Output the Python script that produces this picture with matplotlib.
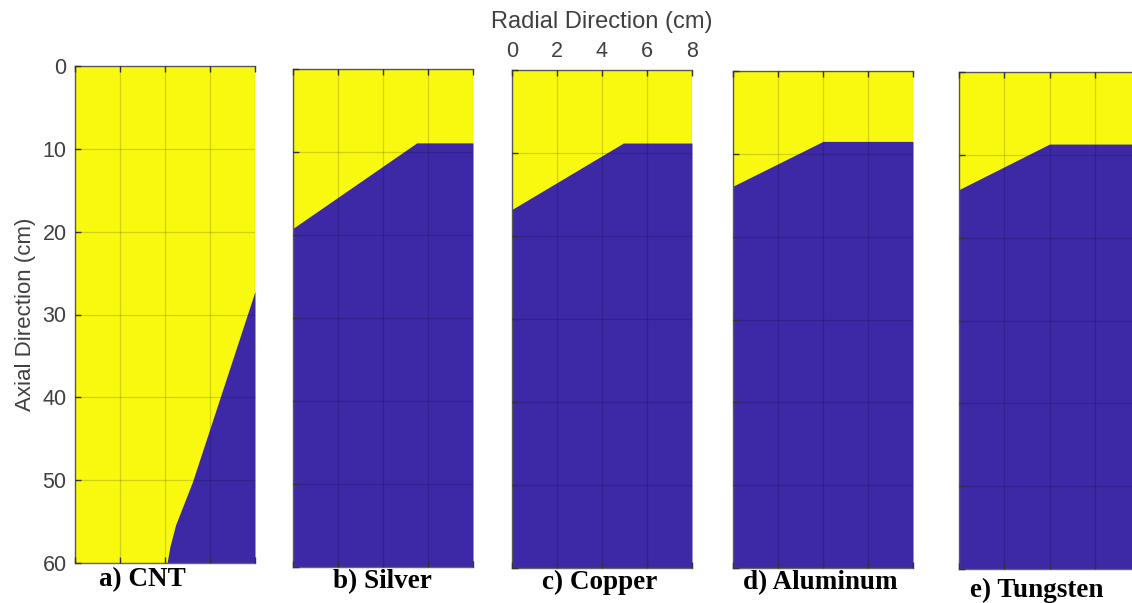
import numpy as np
import matplotlib.pyplot as plt

# melt front boundaries: radial position (cm) vs axial depth (cm)
names = ['a) CNT', 'b) Silver', 'c) Copper', 'd) Aluminum', 'e) Tungsten']
r_cnt = [4.09, 4.22, 4.47, 5.22, 8.0]
z_cnt = [60, 58.0, 55.4, 50.2, 27.2]
r_silver = [0, 5.5, 8]
z_silver = [19.2, 8.9, 8.9]
r_copper = [0, 4.95, 8]
z_copper = [16.8, 8.8, 8.8]
r_alum = [0, 4.0, 8]
z_alum = [13.9, 8.5, 8.5]
r_tung = [0, 4.0, 8]
z_tung = [14.2, 8.7, 8.7]

x_ticks = [0, 2, 4, 6, 8]
y_ticks = [0, 10, 20, 30, 40, 50, 60]

yellow = '#f8f90f'
blue = '#3d28a6'
W, H = 1132, 603

# panel boxes in pixels: left, right, top, bottom
boxes = [(75, 255, 66, 563), (293, 473, 69, 567), (512, 692, 70, 568),
         (733, 913, 71, 568), (959, 1140, 72, 569)]
label_pos = [(142, 580), (382, 582), (600, 582), (820, 583), (1037, 590)]

fig = plt.figure(figsize=(W / 100, H / 100), dpi=100)
plt.rcParams['font.family'] = 'Liberation Sans'

curves = [(r_cnt, z_cnt), (r_silver, z_silver), (r_copper, z_copper),
          (r_alum, z_alum), (r_tung, z_tung)]

for i, (box, (r, z)) in enumerate(zip(boxes, curves)):
    l, rr, t, b = box
    ax = fig.add_axes([l / W, 1 - b / H, (rr - l) / W, (b - t) / H])
    ax.set_facecolor(yellow)
    if i == 0:
        ax.fill_betweenx(z, r, 8, color=blue, lw=0, zorder=1)
    else:
        ax.fill_between(r, z, 60, color=blue, lw=0, zorder=1)
    ax.set_xlim(0, 8)
    ax.set_ylim(60, 0)
    ax.set_xticks(x_ticks)
    ax.set_yticks(y_ticks)
    ax.grid(True, color='black', alpha=0.15, lw=0.9, zorder=2)
    ax.set_axisbelow(False)
    ax.tick_params(direction='in', length=4, width=1, color='#333333',
                   top=True, bottom=True, left=True, right=False,
                   labeltop=(i == 2), labelbottom=False,
                   labelleft=(i == 0), labelsize=15.5, labelcolor='#404040', pad=6)
    for s in ax.spines.values():
        s.set_color('#666666')
        s.set_linewidth(1)
    ax.spines['right'].set_visible(False)
    if i == 0:
        ax.set_ylabel('Axial Direction (cm)', fontsize=16, color='#404040', labelpad=5)
    if i == 2:
        ax.xaxis.set_label_position('top')
        ax.set_xlabel('Radial Direction (cm)', fontsize=17, color='#404040', labelpad=9)
    fig.text(label_pos[i][0] / W, 1 - label_pos[i][1] / H, names[i],
             ha='center', va='center', fontsize=19.5, fontweight='bold',
             family='Liberation Serif')

fig.savefig('out.png', dpi=100)
